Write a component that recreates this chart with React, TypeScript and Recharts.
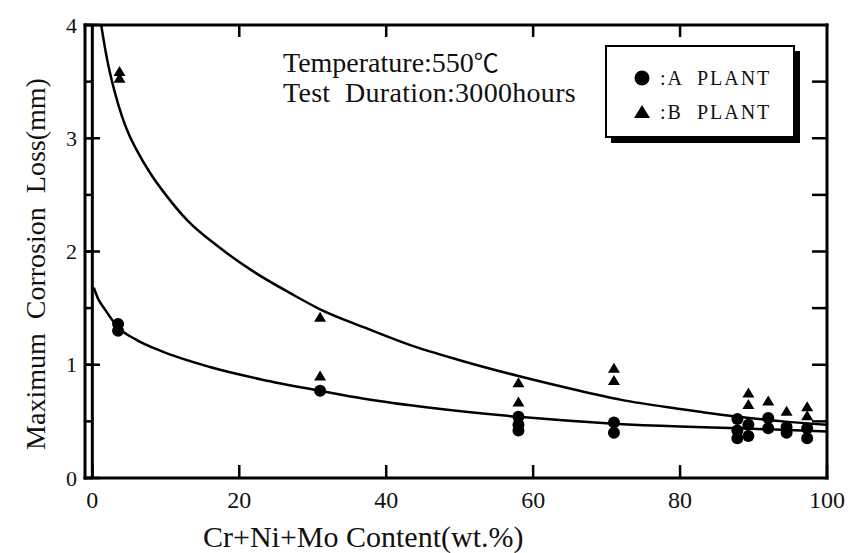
import React from 'react';
import { ComposedChart, Line, Scatter, XAxis, YAxis, ReferenceLine, Legend } from 'recharts';

const FONT = '"Liberation Serif", "DejaVu Serif", "Times New Roman", serif';
const SYMBOL_FONT = '"Noto Sans CJK JP", "Noto Sans CJK SC", "DejaVu Sans", sans-serif';

// Axis domains and ticks
const X_MIN = -1;
const X_MAX = 100;
const Y_MIN = 0;
const Y_MAX = 4;
const xTicks = [0, 20, 40, 60, 80, 100];
const xTopTicks = [20, 40, 60, 80];
const yTicks = [0, 0.5, 1, 1.5, 2, 2.5, 3, 3.5, 4];
const yRightTicks = [0.5, 1, 1.5, 2, 2.5, 3, 3.5];

// Measured points: A PLANT (circles)
const plantA = [
  { x: 3.5, y: 1.36 }, { x: 3.5, y: 1.3 },
  { x: 31, y: 0.77 },
  { x: 58, y: 0.54 }, { x: 58, y: 0.47 }, { x: 58, y: 0.42 },
  { x: 71, y: 0.49 }, { x: 71, y: 0.4 },
  { x: 87.8, y: 0.52 }, { x: 87.8, y: 0.42 }, { x: 87.8, y: 0.35 },
  { x: 89.3, y: 0.47 }, { x: 89.3, y: 0.37 },
  { x: 92, y: 0.53 }, { x: 92, y: 0.44 },
  { x: 94.5, y: 0.45 }, { x: 94.5, y: 0.4 },
  { x: 97.3, y: 0.44 }, { x: 97.3, y: 0.35 },
];

// Measured points: B PLANT (triangles)
const plantB = [
  { x: 3.7, y: 3.59 }, { x: 3.7, y: 3.53 },
  { x: 31, y: 1.42 }, { x: 31, y: 0.9 },
  { x: 58, y: 0.84 }, { x: 58, y: 0.67 },
  { x: 71, y: 0.97 }, { x: 71, y: 0.86 },
  { x: 89.3, y: 0.75 }, { x: 89.3, y: 0.65 },
  { x: 92, y: 0.68 },
  { x: 94.5, y: 0.59 },
  { x: 97.3, y: 0.63 }, { x: 97.3, y: 0.55 },
];

// Fitted curves
const curveB = [
  { x: 1.2, y: 4.0 }, { x: 2, y: 3.7 }, { x: 3, y: 3.42 }, { x: 4, y: 3.2 },
  { x: 5, y: 3.03 }, { x: 6, y: 2.9 }, { x: 8, y: 2.68 }, { x: 10, y: 2.5 },
  { x: 13, y: 2.27 }, { x: 17, y: 2.05 }, { x: 22, y: 1.82 }, { x: 27, y: 1.63 },
  { x: 31, y: 1.49 }, { x: 37, y: 1.33 }, { x: 43, y: 1.18 }, { x: 50, y: 1.04 },
  { x: 58, y: 0.9 }, { x: 65, y: 0.79 }, { x: 72, y: 0.69 }, { x: 80, y: 0.61 },
  { x: 88, y: 0.54 }, { x: 94, y: 0.5 }, { x: 100, y: 0.47 },
];

const curveA = [
  { x: 0.2, y: 1.68 }, { x: 0.8, y: 1.58 }, { x: 1.6, y: 1.5 }, { x: 3.5, y: 1.33 },
  { x: 6, y: 1.22 }, { x: 9.4, y: 1.12 }, { x: 16, y: 0.98 }, { x: 23, y: 0.87 },
  { x: 31, y: 0.77 }, { x: 37, y: 0.7 }, { x: 46, y: 0.62 }, { x: 58, y: 0.54 },
  { x: 71, y: 0.48 }, { x: 80, y: 0.455 }, { x: 88, y: 0.44 }, { x: 100, y: 0.41 },
];

const seriesNames = [':A  PLANT', ':B  PLANT'];
const xTitle = 'Cr+Ni+Mo Content(wt.%)';
const yTitle = 'Maximum  Corrosion  Loss(mm)';
const noteTemp = 'Temperature:550';
const noteUnit = '\u2103';
const noteDuration = 'Test  Duration:3000hours';

const INK = '#111';
const TICK_LINE = { stroke: '#000', strokeWidth: 2.5 };

const BottomTick = (props: any) => {
  const { x, y, payload } = props;
  return (
    <text x={x} y={y + 30} textAnchor="middle" fontSize={24} fontFamily={FONT} fill={INK}>
      {payload.value}
    </text>
  );
};

const EmptyTick = () => <g />;

// Left axis: short native ticks at every 0.5, longer ticks + labels at integers
const LeftTick = (props: any) => {
  const { x, y, payload } = props;
  if (!Number.isInteger(payload.value)) return <g />;
  return (
    <g>
      <line x1={x} x2={x + 15} y1={y} y2={y} stroke="#000" strokeWidth={2.5} />
      <text x={x - 8} y={y} dy="0.35em" textAnchor="end" fontSize={22} fontFamily={FONT} fill={INK}>
        {payload.value}
      </text>
    </g>
  );
};

const CircleShape = (props: any) => <circle cx={props.cx} cy={props.cy} r={6} fill="#000" />;
const TriangleShape = (props: any) => {
  const { cx, cy } = props;
  return <polygon points={`${cx},${cy - 5.5} ${cx + 6},${cy + 4.5} ${cx - 6},${cy + 4.5}`} fill="#000" />;
};

const renderLegend = (props: any) => {
  const payload = (props.payload || []).filter((p: any) => seriesNames.includes(p.value));
  return (
    <svg width={200} height={100} style={{ display: 'block' }}>
      <rect x={6} y={6} width={189} height={92} fill="#000" />
      <rect x={1} y={1} width={188} height={91} fill="#fff" stroke="#000" strokeWidth={2} />
      {payload.map((item: any, i: number) => {
        const cy = 33 + i * 34;
        const isA = item.value === seriesNames[0];
        return (
          <g key={i}>
            {isA ? (
              <circle cx={37} cy={cy} r={7.5} fill="#000" />
            ) : (
              <polygon points={`37,${cy - 7} 45,${cy + 6} 29,${cy + 6}`} fill="#000" />
            )}
            <text x={55} y={cy + 7} fontSize={20} letterSpacing={2} fontFamily={FONT} fill={INK}
              style={{ whiteSpace: 'pre' }}>
              {item.value}
            </text>
          </g>
        );
      })}
    </svg>
  );
};

const XTitle = (props: any) => {
  const vb = props.viewBox || { x: 77, y: 470 };
  return (
    <text x={vb.x + 118} y={vb.y + 69} fontSize={30} fontFamily={FONT} fill={INK}>
      {xTitle}
    </text>
  );
};

const YTitle = () => {
  const cx = 37;
  const cy = 256;
  return (
    <text x={cx} y={cy} textAnchor="middle" fontSize={28} fontFamily={FONT} fill={INK}
      transform={`rotate(-90, ${cx}, ${cy})`} style={{ whiteSpace: 'pre' }}>
      {yTitle}
    </text>
  );
};

export default function App() {
  const axisLine = { stroke: '#000', strokeWidth: 3, strokeLinecap: 'square' as const };
  return (
    <div style={{ position: 'relative', width: 847, height: 545, background: '#fff' }}>
      <ComposedChart width={847} height={545} margin={{ top: 16, right: 27, bottom: 15, left: 17 }}>
        <XAxis xAxisId="bottom" dataKey="x" type="number" domain={[X_MIN, X_MAX]} allowDataOverflow
          ticks={xTicks} interval={0} height={60} tickSize={-13} tickMargin={13} tickLine={TICK_LINE}
          axisLine={axisLine} tick={<BottomTick />} label={<XTitle />} />
        <XAxis xAxisId="top" orientation="top" dataKey="x" type="number" domain={[X_MIN, X_MAX]} allowDataOverflow
          ticks={xTopTicks} interval={0} height={1} tickSize={-12} tickMargin={0} tickLine={TICK_LINE}
          axisLine={axisLine} tick={<EmptyTick />} />
        <YAxis yAxisId="left" dataKey="y" type="number" domain={[Y_MIN, Y_MAX]} allowDataOverflow
          ticks={yTicks} interval={0} width={60} tickSize={-8} tickMargin={8} tickLine={TICK_LINE}
          axisLine={axisLine} tick={<LeftTick />} label={<YTitle />} />
        <YAxis yAxisId="right" orientation="right" dataKey="y" type="number" domain={[Y_MIN, Y_MAX]} allowDataOverflow
          ticks={yRightTicks} interval={0} width={1} tickSize={-15} tickMargin={0} tickLine={TICK_LINE}
          axisLine={axisLine} tick={<EmptyTick />} />

        <ReferenceLine xAxisId="bottom" yAxisId="left" x={0} stroke="#000" strokeWidth={3} />
        <Line xAxisId="bottom" yAxisId="left" data={curveB} dataKey="y" type="monotone" stroke="#000"
          strokeWidth={2.5} dot={false} activeDot={false} legendType="none" isAnimationActive={false} />
        <Line xAxisId="bottom" yAxisId="left" data={curveA} dataKey="y" type="monotone" stroke="#000"
          strokeWidth={2.5} dot={false} activeDot={false} legendType="none" isAnimationActive={false} />
        <Scatter xAxisId="bottom" yAxisId="left" name={seriesNames[0]} data={plantA} fill="#000"
          shape={<CircleShape />} isAnimationActive={false} />
        <Scatter xAxisId="bottom" yAxisId="left" name={seriesNames[1]} data={plantB} fill="#000"
          shape={<TriangleShape />} isAnimationActive={false} />
        <Legend layout="horizontal" verticalAlign="middle" align="center" content={renderLegend}
          wrapperStyle={{ position: 'absolute', left: 597, top: 37, width: 200, height: 100 }} />
      </ComposedChart>
      <div style={{ position: 'absolute', left: 275, top: 38, fontFamily: FONT, fontSize: 28, lineHeight: '30px',
        color: INK, whiteSpace: 'pre', pointerEvents: 'none' }}>
        <div>
          {noteTemp}
          <span style={{ fontFamily: SYMBOL_FONT, fontSize: 25 }}>{noteUnit}</span>
        </div>
        <div style={{ letterSpacing: 0.3 }}>{noteDuration}</div>
      </div>
    </div>
  );
}
